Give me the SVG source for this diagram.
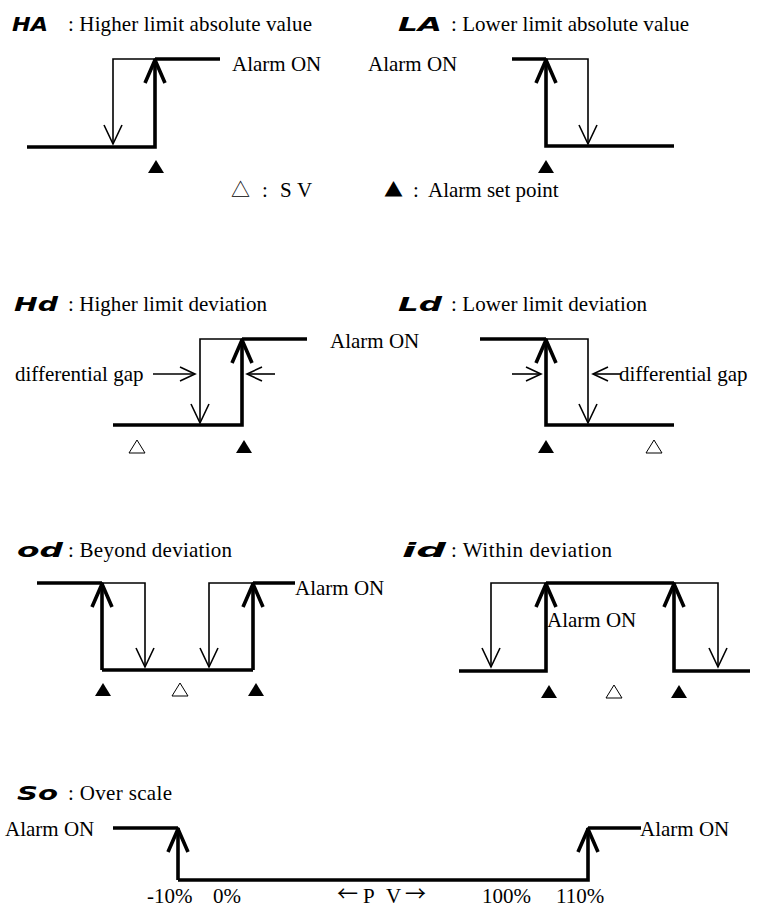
<svg xmlns="http://www.w3.org/2000/svg" width="768" height="909" viewBox="0 0 768 909">
<style>
.t{font-family:"Liberation Serif","Times New Roman",serif;font-size:21px;fill:#000}
.seg{font-family:"DejaVu Sans",sans-serif;font-size:20px;font-weight:bold;font-style:italic;fill:#000}
.sym{font-family:"Noto Sans CJK JP","DejaVu Sans",sans-serif;font-size:19px;fill:#000}
.arr{font-family:"Noto Sans CJK JP","DejaVu Sans",sans-serif;font-size:21px;fill:#000}
.k{fill:none;stroke:#000;stroke-width:3.6;stroke-linejoin:miter}
.n{fill:none;stroke:#000;stroke-width:1.6}
.sp{fill:#000}
.sv{fill:#fff;stroke:#000;stroke-width:1}
</style>
<defs>
<marker id="hk" viewBox="-30 -15 34 30" refX="0" refY="0" markerWidth="34" markerHeight="30" orient="auto" markerUnits="userSpaceOnUse">
<path d="M-24,-10 L-1,0 L-24,10" fill="none" stroke="#000" stroke-width="3.6" stroke-linejoin="round"/>
</marker>
<marker id="hn" viewBox="-24 -12 26 24" refX="0" refY="0" markerWidth="26" markerHeight="24" orient="auto" markerUnits="userSpaceOnUse">
<path d="M-19,-9 L0,0 L-19,9" fill="none" stroke="#000" stroke-width="1.6"/>
</marker>
<marker id="hs" viewBox="-20 -10 22 20" refX="0" refY="0" markerWidth="22" markerHeight="20" orient="auto" markerUnits="userSpaceOnUse">
<path d="M-15,-7 L0,0 L-15,7" fill="none" stroke="#000" stroke-width="1.6"/>
</marker>
</defs>
<rect width="768" height="909" fill="#fff"/>

<g id="panel-HA">
<text class="seg" x="12" y="31" textLength="36" lengthAdjust="spacingAndGlyphs">HA</text>
<text class="t" x="68" y="31" textLength="244" lengthAdjust="spacing">: Higher limit absolute value</text>
<text class="t" x="232" y="71">Alarm ON</text>
<polygon class="sp" points="156,160 148,173 164,173"/>
</g>
<g id="panel-LA">
<text class="seg" x="398" y="31" textLength="44" lengthAdjust="spacingAndGlyphs">LA</text>
<text class="t" x="451" y="31" textLength="238" lengthAdjust="spacing">: Lower limit absolute value</text>
<text class="t" x="368" y="71">Alarm ON</text>
<polygon class="sp" points="546,160 538,173 554,173"/>
</g>
<g id="legend">
<text class="sym" x="231" y="197">△</text>
<text class="t" x="262" y="197">:</text>
<text class="t" x="280" y="197">S</text>
<text class="t" x="297" y="197">V</text>
<text class="sym" x="384" y="197">▲</text>
<text class="t" x="413" y="197">:</text>
<text class="t" x="428" y="197">Alarm set point</text>
</g>
<g id="panel-Hd">
<text class="seg" x="14" y="311" textLength="44" lengthAdjust="spacingAndGlyphs">Hd</text>
<text class="t" x="68" y="311" textLength="199" lengthAdjust="spacing">: Higher limit deviation</text>
<text class="t" x="330" y="348">Alarm ON</text>
<text class="t" x="15" y="381">differential gap</text>
<polygon class="sv" points="137,440 129,453 145,453"/>
<polygon class="sp" points="244,440 236,453 252,453"/>
</g>
<g id="panel-Ld">
<text class="seg" x="398" y="311" textLength="44" lengthAdjust="spacingAndGlyphs">Ld</text>
<text class="t" x="451" y="311" textLength="196" lengthAdjust="spacing">: Lower limit deviation</text>
<text class="t" x="619" y="381">differential gap</text>
<polygon class="sp" points="546,440 538,453 554,453"/>
<polygon class="sv" points="654,440 646,453 662,453"/>
</g>
<g id="panel-od">
<text class="seg" x="17" y="557" textLength="46" lengthAdjust="spacingAndGlyphs">od</text>
<text class="t" x="68" y="557" textLength="164" lengthAdjust="spacing">: Beyond deviation</text>
<text class="t" x="295" y="595">Alarm ON</text>
<polygon class="sp" points="103,683 95,696 111,696"/>
<polygon class="sv" points="180,683 172,696 188,696"/>
<polygon class="sp" points="256,683 248,696 264,696"/>
</g>
<g id="panel-id">
<text class="seg" x="402" y="557" textLength="44" lengthAdjust="spacingAndGlyphs">id</text>
<text class="t" x="451" y="557" textLength="161" lengthAdjust="spacing">: Within deviation</text>
<text class="t" x="547" y="627">Alarm ON</text>
<polygon class="sp" points="549,685 541,698 557,698"/>
<polygon class="sv" points="614,685 606,698 622,698"/>
<polygon class="sp" points="679,685 671,698 687,698"/>
</g>
<g id="panel-So">
<text class="seg" x="17" y="800" textLength="41" lengthAdjust="spacingAndGlyphs">So</text>
<text class="t" x="68" y="800" textLength="104" lengthAdjust="spacing">: Over scale</text>
<text class="t" x="5" y="836">Alarm ON</text>
<text class="t" x="640" y="836">Alarm ON</text>
<text class="t" x="147" y="903">-10%</text>
<text class="t" x="213" y="903">0%</text>
<text class="t" y="901"><tspan class="arr" x="337">←</tspan><tspan x="363" y="903">P</tspan><tspan x="386" y="903">V</tspan><tspan class="arr" x="405" y="901">→</tspan></text>
<text class="t" x="482" y="903">100%</text>
<text class="t" x="556" y="903">110%</text>
</g>

<g id="connectors">
<path class="n" d="M155,59 H113 V144" marker-end="url(#hn)"/>
<path class="k" d="M155,59 H220"/>
<path class="k" d="M27,147 H155 V59" marker-end="url(#hk)"/>
<path class="n" d="M546,59 H588 V144" marker-end="url(#hn)"/>
<path class="k" d="M512,59 H546"/>
<path class="k" d="M674,146 H546 V59" marker-end="url(#hk)"/>
<path class="n" d="M242,339 H200 V423" marker-end="url(#hn)"/>
<path class="k" d="M242,339 H307"/>
<path class="k" d="M113,425 H242 V339" marker-end="url(#hk)"/>
<path class="n" d="M153,374 H195" marker-end="url(#hs)"/>
<path class="n" d="M275,374 H247" marker-end="url(#hs)"/>
<path class="n" d="M546,339 H588 V423" marker-end="url(#hn)"/>
<path class="k" d="M480,339 H546"/>
<path class="k" d="M674,425 H546 V339" marker-end="url(#hk)"/>
<path class="n" d="M512,374 H541" marker-end="url(#hs)"/>
<path class="n" d="M621,374 H593" marker-end="url(#hs)"/>
<path class="k" d="M37,583 H102"/>
<path class="k" d="M253,583 H295"/>
<path class="n" d="M102,583 H145 V667" marker-end="url(#hn)"/>
<path class="n" d="M253,583 H209 V667" marker-end="url(#hn)"/>
<path class="k" d="M102,670 H253"/>
<path class="k" d="M102,670 V583" marker-end="url(#hk)"/>
<path class="k" d="M253,670 V583" marker-end="url(#hk)"/>
<path class="n" d="M546,583 H491 V667" marker-end="url(#hn)"/>
<path class="n" d="M674,583 H718 V667" marker-end="url(#hn)"/>
<path class="k" d="M546,583 H674"/>
<path class="k" d="M459,671 H546 V583" marker-end="url(#hk)"/>
<path class="k" d="M750,671 H674 V583" marker-end="url(#hk)"/>
<path class="k" d="M113,828 H178"/>
<path class="k" d="M588,828 H641"/>
<path class="k" d="M178,880 V828" marker-end="url(#hk)"/>
<path class="k" d="M178,880 H588 V828" marker-end="url(#hk)"/>
</g>
</svg>
